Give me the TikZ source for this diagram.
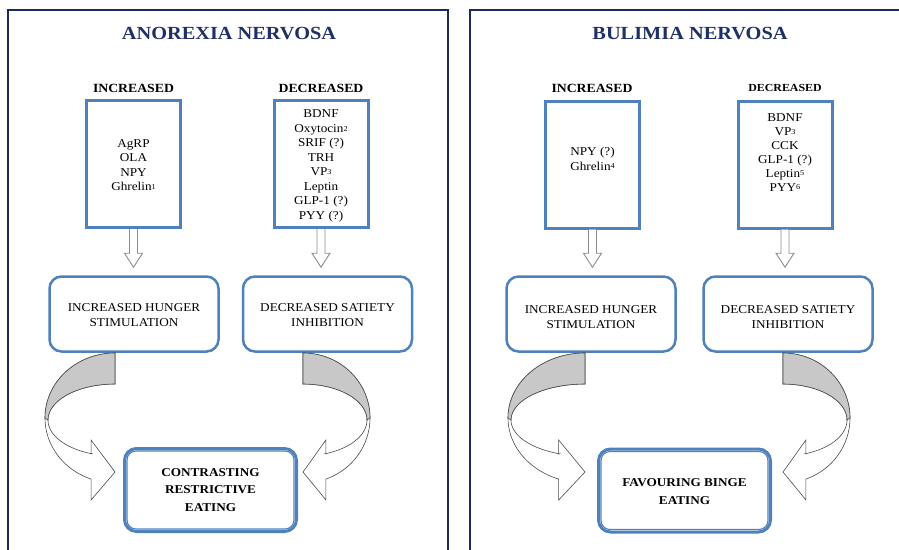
\documentclass[tikz,border=0pt]{standalone}
\usepackage{fontspec}
\setmainfont{Liberation Serif}[FakeStretch=1.1]
\usetikzlibrary{calc}
\definecolor{navy}{HTML}{1F2A5C}
\definecolor{titleblue}{HTML}{1F3066}
\definecolor{boxblue}{HTML}{4F81BD}
\definecolor{arrowgray}{HTML}{8C8C8C}
\definecolor{bandgray}{HTML}{C8C8C8}
\definecolor{bandline}{HTML}{4A4A4A}

\newcommand\sups[1]{\raisebox{0.25ex}{\fontsize{7.5}{8}\selectfont #1}}

\tikzset{
 panel/.style={draw=navy, line width=2pt},
 titletext/.style={font=\fontsize{18.5}{22}\selectfont\bfseries, text=titleblue, inner sep=0},
 colhead/.style={font=\fontsize{12.5}{15}\selectfont\bfseries, inner sep=0},
 listbox/.style={draw=boxblue, line width=3pt, minimum width=94pt, minimum height=127pt, inner sep=0},
 listtext/.style={font=\fontsize{12}{14.5}\selectfont, align=center, inner sep=0},
 effect/.style={draw=boxblue, line width=2.5pt, rounded corners=12pt, minimum width=169pt, minimum height=75pt, inner sep=0},
 effecttext/.style={font=\fontsize{12}{15}\selectfont, align=center, inner sep=0},
 outcome/.style={draw=boxblue, line width=3pt, rounded corners=12pt, minimum width=172pt, minimum height=83pt, inner sep=0},
 outcometext/.style={font=\fontsize{12}{17.5}\selectfont\bfseries, align=center, inner sep=0},
 hollow/.style={draw=arrowgray, line width=0.9pt, fill=white, line join=miter},
 band/.style={draw=bandline, line width=0.6pt, fill=white},
 bandback/.style={fill=bandgray, draw=bandline, line width=0.6pt},
}

\newcommand\hollowdown[2]{%
 \draw[hollow] let \p1=(#1.south), \p2=(#2.north) in
  (\x1-4pt,\y1) -- (\x1-4pt,\y2+22pt) -- (\x1-9pt,\y2+22pt) -- (\x1,\y2+8pt)
  -- (\x1+9pt,\y2+22pt) -- (\x1+4pt,\y2+22pt) -- (\x1+4pt,\y1);}

\newcommand\curvedband[3]{%
 \begin{scope}[shift={(#1,0)}, xscale=#2]
  \pgfmathsetmacro\ox{#3*cos(110)}
  \pgfmathsetmacro\ir{#3-3}
  \draw[band] plot[domain=270:110, samples=60] ({#3*cos(\x)},{418+65*sin(\x)})
   -- (\ox,500) -- (0,472) -- (\ox,440) -- (\ox,454)
   -- plot[domain=110:270, samples=60] ({\ir*cos(\x)},{420+36*sin(\x)}) -- cycle;
  \draw[bandback] plot[domain=270:180, samples=40] ({#3*cos(\x)},{418+65*sin(\x)})
   -- plot[domain=180:270, samples=40] ({\ir*cos(\x)},{420+36*sin(\x)}) -- cycle;
 \end{scope}}

\begin{document}
\begin{tikzpicture}[x=1pt, y=-1pt]
\useasboundingbox[fill=white] (0,0) rectangle (899,549);

% panels
\draw[panel] (8,10) rectangle (448,620);
\draw[panel] (470,10) rectangle (920,620);

% ---------- Anorexia nervosa ----------
\node[titletext] (tA) at (229,34) {ANOREXIA NERVOSA};
\node[colhead] (hIncA) at (133.5,88) {INCREASED};
\node[colhead] (hDecA) at (321,88) {DECREASED};
\node[listbox] (incA) at (133.5,164) {};
\node[listbox] (decA) at (321,164) {};
\node[listtext] (incAt) at (133.5,165) {AgRP\\OLA\\NPY\\Ghrelin\sups{1}};
\node[listtext] (decAt) at (321,166) {BDNF\\Oxytocin\sups{2}\\SRIF (?)\\TRH\\VP\sups{3}\\Leptin\\GLP-1 (?)\\PYY (?)};
\node[effect] (hungA) at (134,314) {};
\node[effect] (satA) at (327.5,314) {};
\node[effecttext] (hungAt) at (134,315.5) {INCREASED HUNGER\\STIMULATION};
\node[effecttext] (satAt) at (327.5,315.5) {DECREASED SATIETY\\INHIBITION};
\node[outcome] (resA) at (210.5,490) {};
\draw[boxblue, line width=1.1pt, rounded corners=9pt] ([shift={(4,4)}]resA.north west) rectangle ([shift={(-4,-4)}]resA.south east);
\node[outcometext] (resAt) at (210.5,490) {CONTRASTING\\RESTRICTIVE\\EATING};
\hollowdown{incA}{hungA}
\hollowdown{decA}{satA}
\curvedband{115}{1}{70}
\curvedband{303}{-1}{67}

% ---------- Bulimia nervosa ----------
\node[titletext] (tB) at (690,34) {BULIMIA NERVOSA};
\node[colhead] (hIncB) at (592,88) {INCREASED};
\node[colhead, font=\fontsize{10.8}{13}\selectfont\bfseries] (hDecB) at (785,88) {DECREASED};
\node[listbox] (incB) at (592.5,164.5) {};
\node[listbox] (decB) at (785,164.5) {};
\node[listtext] (incBt) at (592.5,159) {NPY (?)\\Ghrelin\sups{4}};
\node[listtext, font=\fontsize{12}{13.9}\selectfont] (decBt) at (785,152.5) {BDNF\\VP\sups{3}\\CCK\\GLP-1 (?)\\Leptin\sups{5}\\PYY\sups{6}};
\node[effect] (hungB) at (591,314) {};
\node[effect] (satB) at (788,314) {};
\node[effecttext] (hungBt) at (591,317.5) {INCREASED HUNGER\\STIMULATION};
\node[effecttext] (satBt) at (788,317.5) {DECREASED SATIETY\\INHIBITION};
\node[outcome] (resB) at (684.5,490.5) {};
\draw[boxblue, line width=1.1pt, rounded corners=9pt] ([shift={(4,4)}]resB.north west) rectangle ([shift={(-4,-4)}]resB.south east);
\node[outcometext] (resBt) at (684.5,491.5) {FAVOURING BINGE\\EATING};
\hollowdown{incB}{hungB}
\hollowdown{decB}{satB}
\curvedband{585}{1}{77}
\curvedband{783}{-1}{67}
\end{tikzpicture}
\end{document}
